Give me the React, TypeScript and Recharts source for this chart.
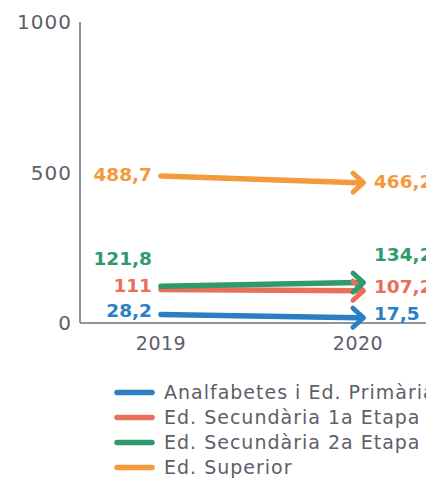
import React from "react";
import { LineChart, Line, XAxis, YAxis, Legend } from "recharts";

const years = ["2019", "2020"];
const analfabetes = [28.2, 17.5];
const secundaria1 = [111, 107.2];
const secundaria2 = [121.8, 134.2];
const superior = [488.7, 466.2];
const yTicks = [0, 500, 1000];

const seriesNames = [
  "Analfabetes i Ed. Primària",
  "Ed. Secundària 1a Etapa",
  "Ed. Secundària 2a Etapa",
  "Ed. Superior",
];
const seriesKeys = ["a", "b", "c", "d"];
const seriesColors = ["#2b80c5", "#e96f5b", "#2f9b6c", "#f39a3b"];
const labelDy = [-4, -4, -28, -1];

const data = years.map((y, i) => ({
  year: y,
  a: analfabetes[i],
  b: secundaria1[i],
  c: secundaria2[i],
  d: superior[i],
}));

const FONT = "'DejaVu Sans', sans-serif";
const GRAY = "#5e5e68";

const fmt = (v: number) => String(v).replace(".", ",");

const makeLabel = (color: string, dy: number) => (props: any) => {
  const { x, y, value, index } = props;
  const first = index === 0;
  return (
    <text
      key={`lbl-${index}`}
      x={first ? x - 9 : x + 16}
      y={y + dy}
      textAnchor={first ? "end" : "start"}
      dominantBaseline="central"
      fill={color}
      fontSize={18.5}
      fontWeight={600}
      fontFamily={FONT}
    >
      {fmt(value)}
    </text>
  );
};

const makeDot = (color: string) => (props: any) => {
  const { cx, cy, index } = props;
  if (index !== 1) return <g key={`dot-${index}`} />;
  return (
    <polyline
      key={`dot-${index}`}
      points={`${cx - 5},${cy - 9.5} ${cx + 5.5},${cy} ${cx - 5},${cy + 9.5}`}
      fill="none"
      stroke={color}
      strokeWidth={5}
      strokeLinecap="round"
      strokeLinejoin="round"
    />
  );
};

const LegendContent = () => (
  <div style={{ fontFamily: FONT, fontSize: 19, letterSpacing: 1, color: GRAY, lineHeight: "25px" }}>
    {seriesNames.map((n, i) => (
      <div key={n} style={{ display: "flex", alignItems: "center", whiteSpace: "nowrap", height: 25 }}>
        <svg width={50} height={25} style={{ flex: "none" }}>
          <line x1={3} y1={12.5} x2={38} y2={12.5} stroke={seriesColors[i]} strokeWidth={5.5} strokeLinecap="round" />
        </svg>
        <span>{n}</span>
      </div>
    ))}
  </div>
);

export default function App() {
  return (
    <div style={{ width: 426, height: 470, overflow: "hidden", position: "relative" }}>
      <LineChart
        width={480}
        height={470}
        data={data}
        margin={{ top: 14, right: 50, left: 0, bottom: 125 }}
      >
        <XAxis
          dataKey="year"
          height={30}
          padding={{ left: 81, right: 80 }}
          tickLine={false}
          tickSize={0}
          tickMargin={14}
          axisLine={{ stroke: "#6e6e78", strokeWidth: 1.5 }}
          tick={{ fill: GRAY, fontSize: 19, fontFamily: FONT, letterSpacing: 0.5 }}
        />
        <YAxis
          width={72}
          domain={[0, 1000]}
          ticks={yTicks}
          tickLine={false}
          tickSize={0}
          tickMargin={8}
          axisLine={{ stroke: "#6e6e78", strokeWidth: 1.5 }}
          tick={{ fill: GRAY, fontSize: 20, fontFamily: FONT, letterSpacing: 1 }}
        />
        {seriesKeys.map((k, i) => (
          <Line
            key={k}
            dataKey={k}
            name={seriesNames[i]}
            stroke={seriesColors[i]}
            strokeWidth={5.5}
            strokeLinecap="round"
            isAnimationActive={false}
            dot={makeDot(seriesColors[i])}
            activeDot={false}
            label={makeLabel(seriesColors[i], labelDy[i])}
          />
        ))}
        <Legend
          layout="vertical"
          align="center"
          verticalAlign="middle"
          content={<LegendContent />}
          wrapperStyle={{ top: 372, left: 106, width: 400, height: 100 }}
        />
      </LineChart>
    </div>
  );
}
